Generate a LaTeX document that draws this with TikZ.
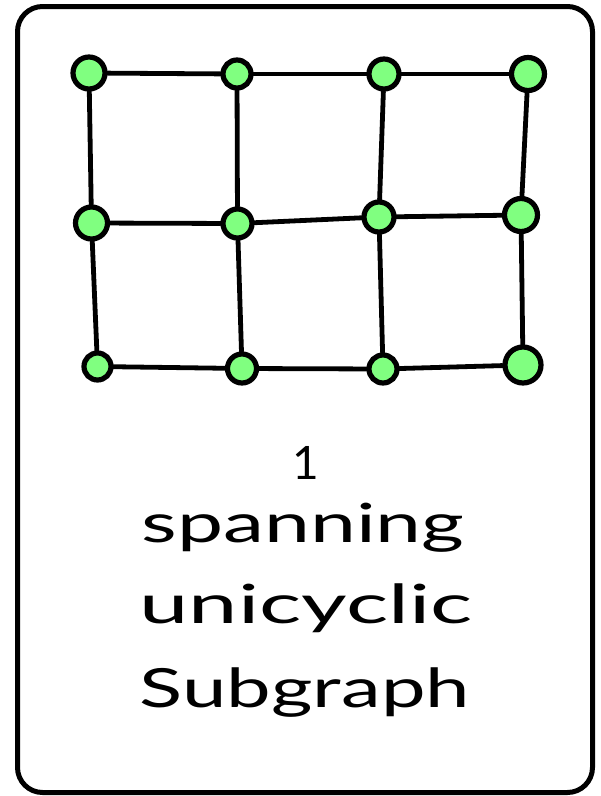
\documentclass[tikz,border=0pt]{standalone}
\usepackage{fontspec}
\usepackage{graphicx}
\setmainfont{Lato}
\definecolor{nodegreen}{RGB}{128,255,128}
\tikzset{
  vtx/.style={circle, draw=black, line width=5.2pt, fill=nodegreen, inner sep=0pt, minimum size=#1},
  edge/.style={line width=4.8pt, line cap=round},
  card/.style={draw=black, line width=5pt, rounded corners=25pt, fill=white},
  lbl/.style={anchor=base, inner sep=0pt}
}
\begin{document}
\begin{tikzpicture}[x=1pt,y=-1pt]
\useasboundingbox (0,0) rectangle (601,796);
\draw[card] (17.5,6.5) rectangle (592.5,792.5);
% vertices
\node[vtx=32pt] (a1) at (89,73) {};
\node[vtx=28pt] (a2) at (237,74) {};
\node[vtx=30pt] (a3) at (384,74) {};
\node[vtx=33pt] (a4) at (528,74) {};
\node[vtx=32pt] (b1) at (91.5,223) {};
\node[vtx=29pt] (b2) at (237.5,223.5) {};
\node[vtx=30pt] (b3) at (379,217) {};
\node[vtx=33pt] (b4) at (521,215) {};
\node[vtx=27pt] (c1) at (97.5,366.5) {};
\node[vtx=29pt] (c2) at (242,368.5) {};
\node[vtx=28pt] (c3) at (383,369) {};
\node[vtx=36pt] (c4) at (523,365) {};
% edges
\draw[edge] (a1) -- (a2); \draw[edge] (a2) -- (a3); \draw[edge] (a3) -- (a4);
\draw[edge] (b1) -- (b2); \draw[edge] (b2) -- (b3); \draw[edge] (b3) -- (b4);
\draw[edge] (c1) -- (c2); \draw[edge] (c2) -- (c3); \draw[edge] (c3) -- (c4);
\draw[edge] (a1) -- (b1); \draw[edge] (b1) -- (c1);
\draw[edge] (a2) -- (b2); \draw[edge] (b2) -- (c2);
\draw[edge] (a3) -- (b3); \draw[edge] (b3) -- (c3);
\draw[edge] (a4) -- (b4); \draw[edge] (b4) -- (c4);
% labels
\node[lbl] (t0) at (306,479) {\fontsize{46}{46}\selectfont 1};
\node[lbl] (t1) at (303,542) {\resizebox{323pt}{\height}{\fontsize{54}{54}\selectfont spanning}};
\node[lbl] (t2) at (306,623) {\resizebox{333pt}{\height}{\fontsize{54}{54}\selectfont unicyclic}};
\node[lbl] (t3) at (305,707) {\resizebox{330pt}{\height}{\fontsize{54}{54}\selectfont Subgraph}};
\end{tikzpicture}
\end{document}
